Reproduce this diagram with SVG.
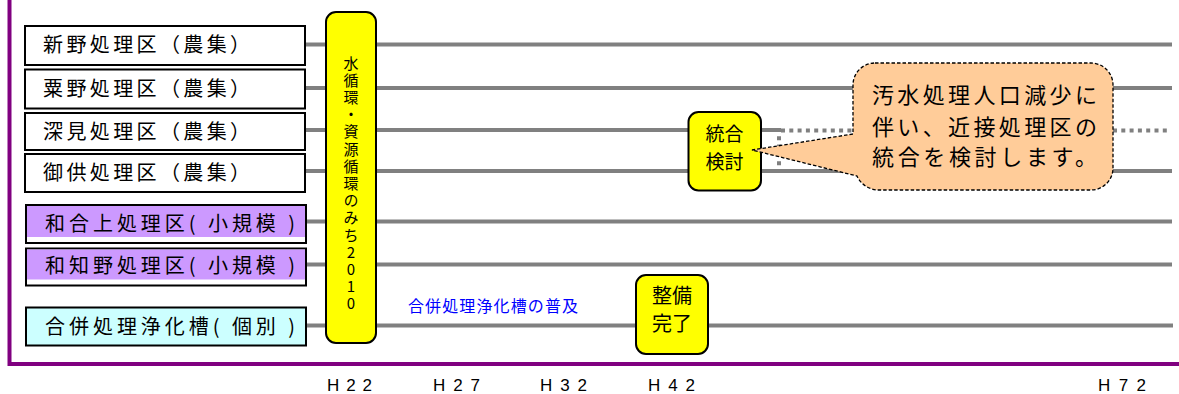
<svg xmlns="http://www.w3.org/2000/svg" width="1179" height="394" viewBox="0 0 1179 394">
<style>
.jp{font-family:"Noto Sans CJK JP","Noto Sans CJK SC",sans-serif;fill:#000}
.box{stroke:#000;stroke-width:2}
.ln{stroke:#808080;stroke-width:4;fill:none}
.dot{stroke:#808080;stroke-width:4;fill:none;stroke-dasharray:4 4.3}
.yel{fill:#FFFF00;stroke:#000;stroke-width:2}
.ax{font-family:"Liberation Sans",Arial,sans-serif;font-size:17px;fill:#000}
.vert{writing-mode:vertical-rl;text-orientation:upright;letter-spacing:2.2px}
</style>
<rect width="1179" height="394" fill="#fff"/>
<g id="axis">
<line x1="9.5" y1="0" x2="9.5" y2="366" stroke="#800080" stroke-width="4"/>
<line x1="8" y1="364" x2="1179" y2="364" stroke="#800080" stroke-width="4"/>
<text class="ax" x="327" y="391" textLength="45" lengthAdjust="spacing">H22</text>
<text class="ax" x="433" y="391" textLength="47" lengthAdjust="spacing">H27</text>
<text class="ax" x="540" y="391" textLength="47" lengthAdjust="spacing">H32</text>
<text class="ax" x="648" y="391" textLength="47" lengthAdjust="spacing">H42</text>
<text class="ax" x="1098" y="391" textLength="48" lengthAdjust="spacing">H72</text>
</g>
<g id="connectors">
<line class="ln" x1="305" y1="44.5" x2="1172" y2="44.5"/>
<line class="ln" x1="305" y1="88" x2="1172" y2="88"/>
<line class="ln" x1="305" y1="130" x2="777" y2="130"/>
<line class="dot" x1="781" y1="130.5" x2="1167" y2="130.5"/>
<line class="dot" x1="779" y1="128" x2="779" y2="171"/>
<line class="ln" x1="305" y1="171" x2="1172" y2="171"/>
<line class="ln" x1="305" y1="221.5" x2="1172" y2="221.5"/>
<line class="ln" x1="305" y1="264.5" x2="1172" y2="264.5"/>
<line class="ln" x1="305" y1="325.5" x2="1173" y2="325.5"/>
</g>
<g id="n1"><rect class="box" x="25" y="26" width="280" height="39" fill="#fff"/><text class="jp" x="43" y="52" font-size="20" textLength="207" lengthAdjust="spacing">新野処理区（農集）</text></g>
<g id="n2"><rect class="box" x="25" y="69.5" width="280" height="39" fill="#fff"/><text class="jp" x="43" y="96" font-size="20" textLength="207" lengthAdjust="spacing">粟野処理区（農集）</text></g>
<g id="n3"><rect class="box" x="25" y="113" width="280" height="37" fill="#fff"/><text class="jp" x="43" y="138.5" font-size="20" textLength="207" lengthAdjust="spacing">深見処理区（農集）</text></g>
<g id="n4"><rect class="box" x="25" y="154" width="280" height="38" fill="#fff"/><text class="jp" x="43" y="180" font-size="20" textLength="207" lengthAdjust="spacing">御供処理区（農集）</text></g>
<g id="n5"><rect class="box" x="26" y="205" width="280" height="38" fill="#fff"/><rect x="27" y="206" width="278" height="31" fill="#CC99FF"/><text class="jp" x="45" y="231" font-size="20" textLength="250" lengthAdjust="spacing">和合上処理区( 小規模 )</text></g>
<g id="n6"><rect class="box" x="26" y="248.5" width="280" height="37" fill="#fff"/><rect x="27" y="249.5" width="278" height="30" fill="#CC99FF"/><text class="jp" x="45" y="273" font-size="20" textLength="250" lengthAdjust="spacing">和知野処理区( 小規模 )</text></g>
<g id="n7"><rect class="box" x="26" y="307.5" width="280" height="38" fill="#CCFFFF"/><text class="jp" x="45" y="334" font-size="20" textLength="250" lengthAdjust="spacing">合併処理浄化槽( 個別 )</text></g>
<g id="plan">
<rect class="yel" x="326" y="12" width="50" height="331" rx="10"/>
<text class="jp vert" x="351" y="55.5" font-size="15">水循環・資源循環のみち2010</text>
</g>
<g id="fukyu"><text class="jp" x="408" y="312" font-size="16" style="fill:#0000FF" textLength="170" lengthAdjust="spacing">合併処理浄化槽の普及</text></g>
<g id="seibi">
<rect class="yel" x="636" y="275" width="72" height="79" rx="10"/>
<text class="jp" font-size="20" text-anchor="middle"><tspan x="672" y="303">整備</tspan><tspan x="672" y="331">完了</tspan></text>
</g>
<g id="togo">
<rect class="yel" x="688.5" y="112" width="72.5" height="78.5" rx="10"/>
<text class="jp" font-size="19" text-anchor="middle"><tspan x="724.5" y="140.5">統合</tspan><tspan x="724.5" y="169">検討</tspan></text>
</g>
<g id="callout">
<path d="M875,63 H1091 A22,22 0 0 1 1113,85 V168 A22,22 0 0 1 1091,190 H878 A24,24 0 0 1 857,176 L752,150 L853,134 V85 A22,22 0 0 1 875,63 Z" fill="#FFCC99" stroke="#000" stroke-width="1.3" stroke-dasharray="3.5 2"/>
<text class="jp" font-size="22" textLength="225" lengthAdjust="spacing" x="872" y="103">汚水処理人口減少に</text>
<text class="jp" font-size="22" textLength="225" lengthAdjust="spacing" x="872" y="135">伴い、近接処理区の</text>
<text class="jp" font-size="22" textLength="225" lengthAdjust="spacing" x="872" y="165">統合を検討します。</text>
</g>
</svg>
